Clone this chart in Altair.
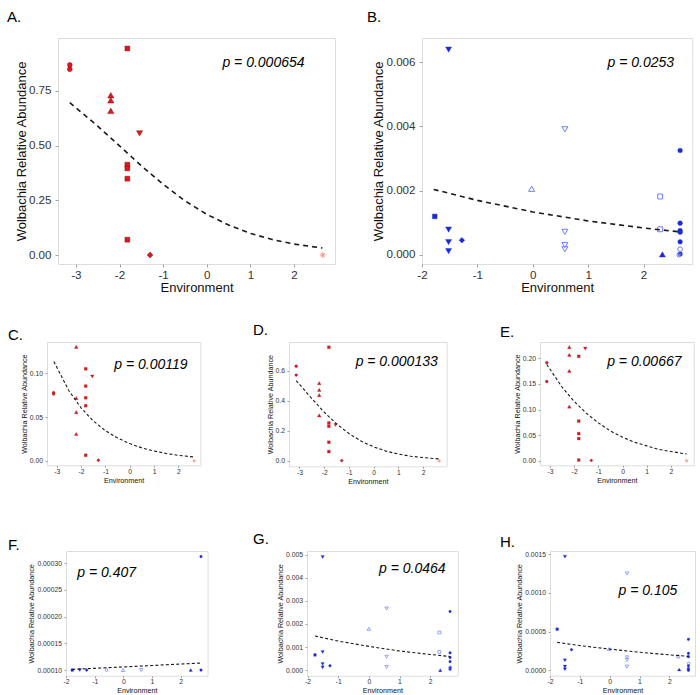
import altair as alt
import pandas as pd

FONT = "Liberation Sans"

# ---------------- data: red group (A, C, D, E) ----------------
A_x = [-3.14, -3.14, -1.82, -2.20, -2.20, -2.20, -1.54, -1.82, -1.82, -1.82, -1.82, -1.30, 2.66]
A_y = [0.869, 0.849, 0.944, 0.730, 0.707, 0.659, 0.556, 0.413, 0.396, 0.349, 0.070, 0.000, 0.000]
A_kind = ["circle", "circle", "square", "tri", "tri", "tri", "dtri",
          "square", "square", "square", "square", "diamond", "star"]
A_fit_x = [-3.14, -2.5, -2.0, -1.5, -1.0, -0.5, 0.0, 0.5, 1.0, 1.5, 2.0, 2.65]
A_fit_y = [0.697, 0.589, 0.499, 0.408, 0.323, 0.248, 0.186, 0.137, 0.099, 0.071, 0.050, 0.032]

C_x = [-3.13, -3.13, -2.20, -2.20, -2.20, -2.20, -1.81, -1.81, -1.81, -1.81, -1.81, -1.54, -1.29, 2.65]
C_y = [0.0780, 0.0764, 0.1304, 0.0719, 0.0559, 0.0308, 0.1053, 0.0856, 0.0722, 0.0631, 0.0065,
       0.0966, 0.0008, 0.0]
C_kind = ["circle", "circle", "tri", "tri", "tri", "tri", "square", "square", "square", "square",
          "square", "dtri", "diamond", "star"]
C_fit_x = [-3.12, -2.5, -2.0, -1.5, -1.0, -0.5, 0.0, 0.5, 1.0, 1.5, 2.0, 2.6]
C_fit_y = [0.1137, 0.0803, 0.0607, 0.0458, 0.0346, 0.0262, 0.0198, 0.0149, 0.0113, 0.0085, 0.0064, 0.0046]

D_x = [-3.13, -3.13, -1.81, -2.20, -2.20, -2.20, -2.20, -1.81, -1.81, -1.81, -1.81, -1.54, -1.29, 2.65]
D_y = [0.629, 0.570, 0.755, 0.517, 0.472, 0.437, 0.302, 0.252, 0.230, 0.124, 0.062, 0.238, 0.002, 0.0]
D_kind = ["circle", "circle", "square", "tri", "tri", "tri", "tri", "square", "square", "square",
          "square", "dtri", "diamond", "star"]
D_fit_x = [-3.13, -2.5, -2.0, -1.5, -1.0, -0.5, 0.0, 0.5, 1.0, 1.5, 2.0, 2.65]
D_fit_y = [0.534, 0.414, 0.324, 0.246, 0.182, 0.131, 0.093, 0.065, 0.045, 0.031, 0.022, 0.013]

E_x = [-3.13, -3.13, -2.20, -2.20, -2.20, -2.20, -1.81, -1.81, -1.81, -1.81, -1.81, -1.54, -1.29, 2.65]
E_y = [0.1916, 0.1548, 0.222, 0.207, 0.1755, 0.1058, 0.204, 0.0774, 0.0529, 0.0432, 0.0013,
       0.219, 0.0006, 0.0]
E_kind = ["circle", "circle", "tri", "tri", "tri", "tri", "square", "square", "square", "square",
          "square", "dtri", "diamond", "star"]
E_fit_x = [-3.13, -2.5, -2.0, -1.5, -1.0, -0.5, 0.0, 0.5, 1.0, 1.5, 2.0, 2.65]
E_fit_y = [0.188, 0.144, 0.116, 0.093, 0.074, 0.058, 0.046, 0.036, 0.029, 0.022, 0.018, 0.013]

# ---------------- data: blue group (B, F, G, H) ----------------
B_x = [-1.52, -1.77, -1.52, -1.52, -1.52, -1.28, 0.58, -0.02, 0.58, 0.58, 0.58, 2.30, 2.30, 2.34,
       2.66, 2.66, 2.66, 2.66, 2.66, 2.66, 2.66, 2.64]
B_y = [0.00639, 0.00120, 0.00079, 0.00040, 0.00012, 0.00046, 0.00391, 0.00206, 0.00072, 0.00031,
       0.00018, 0.00182, 0.00080, 0.00002, 0.00325, 0.00099, 0.00076, 0.00071, 0.00041, 0.00003,
       0.00018, 0.00000]
B_kind = ["f_dtri", "f_sq", "f_dtri", "f_dtri", "f_dtri", "f_dia", "o_dtri", "o_tri", "o_dtri",
          "o_dtri", "o_dtri", "o_sq", "o_sq", "f_tri", "f_circ", "f_circ", "f_circ", "f_circ",
          "f_circ", "f_circ", "o_circ", "o_star"]
B_fit_x = [-1.79, -1.0, 0.0, 1.0, 2.0, 2.65]
B_fit_y = [0.00204, 0.00170, 0.00134, 0.00106, 0.00084, 0.00072]

F_x = [-1.78, -1.52, -1.28, -0.58, -0.01, 0.62, 2.35, 2.71, 2.71]
F_y = [0.000100, 0.000100, 0.000100, 0.000100, 0.000100, 0.000100, 0.000100, 0.000100, 0.0003125]
F_kind = ["f_sq", "f_dtri", "f_dia", "o_circ", "o_tri", "o_dtri", "f_tri", "f_circ", "f_circ"]
F_fit_x = [-1.78, -1.0, 0.0, 1.0, 2.0, 2.71]
F_fit_y = [0.0001012, 0.0001032, 0.0001058, 0.0001085, 0.0001112, 0.0001131]

G_x = [-1.76, -1.51, -1.51, -1.51, -1.51, -1.27, 0.00, 0.58, 0.58, 0.58, 2.30, 2.30, 2.33,
       2.65, 2.65, 2.65, 2.65, 2.65, 2.65, 2.66]
G_y = [0.00066, 0.00490, 0.00079, 0.00027, 0.00012, 0.00019, 0.00179, 0.00267, 0.00058, 0.00014,
       0.00163, 0.00079, 0.00000, 0.00254, 0.00075, 0.00055, 0.00037, 0.00010, 0.00004, 0.00013]
G_kind = ["f_sq", "f_dtri", "f_dtri", "f_dtri", "f_dtri", "f_dia", "o_tri", "o_dtri", "o_dtri",
          "o_dtri", "o_sq", "o_sq", "f_tri", "f_circ", "f_circ", "f_circ", "f_circ", "f_circ",
          "f_circ", "o_circ"]
G_fit_x = [-1.76, -1.0, 0.0, 1.0, 2.0, 2.65]
G_fit_y = [0.00148, 0.00126, 0.00103, 0.00083, 0.00068, 0.00059]

H_x = [-1.76, -1.50, -1.50, -1.50, -1.50, -1.28, -0.02, 0.58, 0.58, 0.58, 0.58, 2.30, 2.33,
       2.64, 2.64, 2.64, 2.64, 2.64, 2.64, 2.65]
H_y = [0.000531, 0.001466, 0.000129, 0.000047, 0.000013, 0.000266, 0.000274, 0.001250, 0.000167,
       0.000133, 0.000047, 0.000176, 0.000010, 0.000399, 0.000219, 0.000176, 0.000060, 0.000020,
       0.000000, 0.000090]
H_kind = ["f_sq", "f_dtri", "f_dtri", "f_dtri", "f_dtri", "f_dia", "o_tri", "o_dtri", "o_dtri",
          "o_dtri", "o_dtri", "o_sq", "f_tri", "f_circ", "f_circ", "f_circ", "f_circ", "f_circ",
          "f_circ", "o_circ"]
H_fit_x = [-1.76, -1.0, 0.0, 1.0, 2.0, 2.64]
H_fit_y = [0.000360, 0.000319, 0.000273, 0.000233, 0.000199, 0.000180]

# p-value annotations: text and data-space position
P_text = {"A": "p = 0.000654", "B": "p = 0.0253", "C": "p = 0.00119", "D": "p = 0.000133",
          "E": "p = 0.00667", "F": "p = 0.407", "G": "p = 0.0464", "H": "p = 0.105"}
P_x = {"A": 1.30, "B": 1.95, "C": 0.87, "D": 0.93, "E": 0.90, "F": -0.58, "G": 1.42, "H": 1.28}
P_y = {"A": 0.877, "B": 0.00596, "C": 0.110, "D": 0.655, "E": 0.192, "F": 0.000281,
       "G": 0.00439, "H": 0.00102}

# ---------------- marker styles ----------------
RED, RED_EDGE, PINK = "#E5171B", "#5A0707", "#F4948F"
BLUE, LBLUE = "#1B2AD8", "#6E80F7"
ASTERISK = "M-1,0L1,0M0,-1L0,1M-0.7,-0.7L0.7,0.7M-0.7,0.7L0.7,-0.7"

# kind -> (shape, fill, stroke, size in large panels)
MARKERS = {
    "circle": ("circle", RED, RED_EDGE, 24),
    "tri": ("triangle-up", RED, RED_EDGE, 40),
    "dtri": ("triangle-down", RED, RED_EDGE, 38),
    "square": ("square", RED, RED_EDGE, 24),
    "diamond": ("diamond", RED, RED_EDGE, 34),
    "star": (ASTERISK, "transparent", PINK, 36),
    "f_sq": ("square", BLUE, BLUE, 22),
    "f_dtri": ("triangle-down", BLUE, BLUE, 36),
    "f_dia": ("diamond", BLUE, BLUE, 32),
    "f_tri": ("triangle-up", BLUE, BLUE, 36),
    "f_circ": ("circle", BLUE, BLUE, 22),
    "o_tri": ("triangle-up", "transparent", LBLUE, 36),
    "o_dtri": ("triangle-down", "transparent", LBLUE, 36),
    "o_sq": ("square", "transparent", LBLUE, 24),
    "o_circ": ("circle", "transparent", LBLUE, 22),
    "o_star": (ASTERISK, "transparent", LBLUE, 30),
}

# panel geometry and axis setup; "lb" is the letter's baseline height above the frame
PANELS = {
    "A": dict(big=True, w=277, h=226, xd=[-3.41, 2.94], yd=[-0.041, 0.992],
              xt=[-3, -2, -1, 0, 1, 2], yt=[0, 0.25, 0.5, 0.75], fmt=".2f", ldx=-51, lb=16),
    "B": dict(big=True, w=270.3, h=226, xd=[-2.0, 2.88], yd=[-0.00028, 0.00675],
              xt=[-2, -1, 0, 1, 2], yt=[0, 0.002, 0.004, 0.006], fmt=".3f", ldx=-55, lb=16),
    "C": dict(big=False, w=153.3, h=123.3, xd=[-3.4, 2.9], yd=[-0.005, 0.136],
              xt=[-3, -2, -1, 0, 1, 2], yt=[0, 0.05, 0.10], fmt=".2f", ldx=-39, lb=2.4),
    "D": dict(big=False, w=157.7, h=124.3, xd=[-3.42, 2.95], yd=[-0.036, 0.79],
              xt=[-3, -2, -1, 0, 1, 2], yt=[0, 0.2, 0.4, 0.6], fmt=".1f", ldx=-36, lb=7.4),
    "E": dict(big=False, w=153.7, h=123.3, xd=[-3.41, 2.94], yd=[-0.009, 0.232],
              xt=[-3, -2, -1, 0, 1, 2], yt=[0, 0.05, 0.10, 0.15, 0.20], fmt=".2f", ldx=-40, lb=4.7),
    "F": dict(big=False, w=141.6, h=124.7, xd=[-2.0, 2.94], yd=[0.0000894, 0.000323],
              xt=[-2, -1, 0, 1, 2], yt=[0.0001, 0.00015, 0.0002, 0.00025, 0.0003], fmt=".5f",
              ldx=-58, lb=1),
    "G": dict(big=False, w=150.7, h=124.7, xd=[-2.02, 2.9], yd=[-0.00024, 0.00516],
              xt=[-2, -1, 0, 1, 2], yt=[0, 0.001, 0.002, 0.003, 0.004, 0.005], fmt=".3f",
              ldx=-54, lb=6.6),
    "H": dict(big=False, w=145, h=124.7, xd=[-2.0, 2.86], yd=[-0.00007, 0.00154],
              xt=[-2, -1, 0, 1, 2], yt=[0, 0.0005, 0.001, 0.0015], fmt=".4f", ldx=-50, lb=4.3),
}

SERIES = {
    "A": (A_x, A_y, A_kind, A_fit_x, A_fit_y), "B": (B_x, B_y, B_kind, B_fit_x, B_fit_y),
    "C": (C_x, C_y, C_kind, C_fit_x, C_fit_y), "D": (D_x, D_y, D_kind, D_fit_x, D_fit_y),
    "E": (E_x, E_y, E_kind, E_fit_x, E_fit_y), "F": (F_x, F_y, F_kind, F_fit_x, F_fit_y),
    "G": (G_x, G_y, G_kind, G_fit_x, G_fit_y), "H": (H_x, H_y, H_kind, H_fit_x, H_fit_y),
}

HYPHEN = "replace(datum.label, '\u2212', '-')"
LETTER_SIZE = 15


def panel(key):
    cfg = PANELS[key]
    xs, ys, kinds, fx, fy = SERIES[key]
    big = cfg["big"]
    k = 1.0 if big else 0.34

    def edge(t):
        if t.startswith("o_") or t == "star":
            return 1.0 if big else 0.7
        return 0.4 if big else 0.2

    pts = pd.DataFrame({
        "x": xs, "y": ys,
        "shape": [MARKERS[t][0] for t in kinds],
        "fill": [MARKERS[t][1] for t in kinds],
        "stroke": [MARKERS[t][2] for t in kinds],
        "size": [MARKERS[t][3] * k for t in kinds],
        "sw": [edge(t) for t in kinds],
    })
    fit = pd.DataFrame({"x": fx, "y": fy})
    ann = pd.DataFrame({"x": [P_x[key]], "y": [P_y[key]], "label": [P_text[key]]})

    lab = 11.6 if big else 6.8
    ttl = 13 if big else 7.2
    common = dict(grid=False, domain=False, labelFont=FONT, titleFont=FONT, labelFontSize=lab,
                  titleFontSize=ttl, titleFontWeight="normal", labelColor="#333333",
                  titleColor="#111111", tickColor="#8a8a8a", tickWidth=0.8,
                  tickSize=3 if big else 2, labelFlush=False, labelOverlap=False)
    xaxis = alt.Axis(values=cfg["xt"], format="d", labelExpr=HYPHEN, title="Environment",
                     labelPadding=2 if big else 1, titlePadding=1, **common)
    yaxis = alt.Axis(values=cfg["yt"], format=cfg["fmt"], title="Wolbachia Relative Abundance",
                     labelPadding=4 if big else 2.5, titlePadding=0 if big else 1, **common)
    X = alt.X("x:Q", scale=alt.Scale(domain=cfg["xd"], nice=False, zero=False), axis=xaxis)
    Y = alt.Y("y:Q", scale=alt.Scale(domain=cfg["yd"], nice=False, zero=False), axis=yaxis)

    points = alt.Chart(pts).mark_point(opacity=1).encode(
        x=X, y=Y,
        shape=alt.Shape("shape:N", scale=None),
        fill=alt.Fill("fill:N", scale=None),
        stroke=alt.Stroke("stroke:N", scale=None),
        size=alt.Size("size:Q", scale=None),
        strokeWidth=alt.StrokeWidth("sw:Q", scale=None),
    )
    curve = alt.Chart(fit).mark_line(
        color="#1a1a1a", strokeWidth=1.6 if big else 1.1,
        strokeDash=[5, 4] if big else [3, 2.2],
    ).encode(x=X, y=Y)
    text = alt.Chart(ann).mark_text(
        font=FONT, fontSize=14, fontStyle="italic", color="black",
        align="center", baseline="middle",
    ).encode(x=X, y=Y, text="label:N")

    return alt.layer(points, curve, text).properties(
        width=cfg["w"], height=cfg["h"],
        title=alt.TitleParams(text=key + ".", anchor="start", frame="group", dx=cfg["ldx"],
                              offset=0, dy=LETTER_SIZE - cfg["lb"], baseline="alphabetic",
                              fontSize=LETTER_SIZE, font=FONT, fontWeight="normal",
                              color="black"),
    )


blank = pd.DataFrame({"v": [0]})


def gap(w, h):
    return alt.Chart(blank).mark_point(opacity=0, size=1).encode(
        x=alt.X("v:Q", axis=None), y=alt.Y("v:Q", axis=None)
    ).properties(width=w, height=h, view=alt.ViewBackground(strokeOpacity=0))


def row(*items):
    return alt.hconcat(*items, spacing=0, bounds="flush")


chart = alt.vconcat(
    gap(1, 8.5),
    row(gap(58, 283.5), panel("A"), gap(86.7, 1), panel("B")),
    row(gap(46.7, 188.5), panel("C"), gap(87.3, 1), panel("D"), gap(92.3, 1), panel("E")),
    row(gap(65.7, 130), panel("F"), gap(98.7, 1), panel("G"), gap(91.6, 1), panel("H")),
    spacing=0, bounds="full",
).properties(padding=0, background="white").configure_view(
    stroke="#BDBDBD", strokeWidth=1
).configure(font=FONT)

chart.save("out.html", embed_options={"renderer": "svg", "actions": False})
